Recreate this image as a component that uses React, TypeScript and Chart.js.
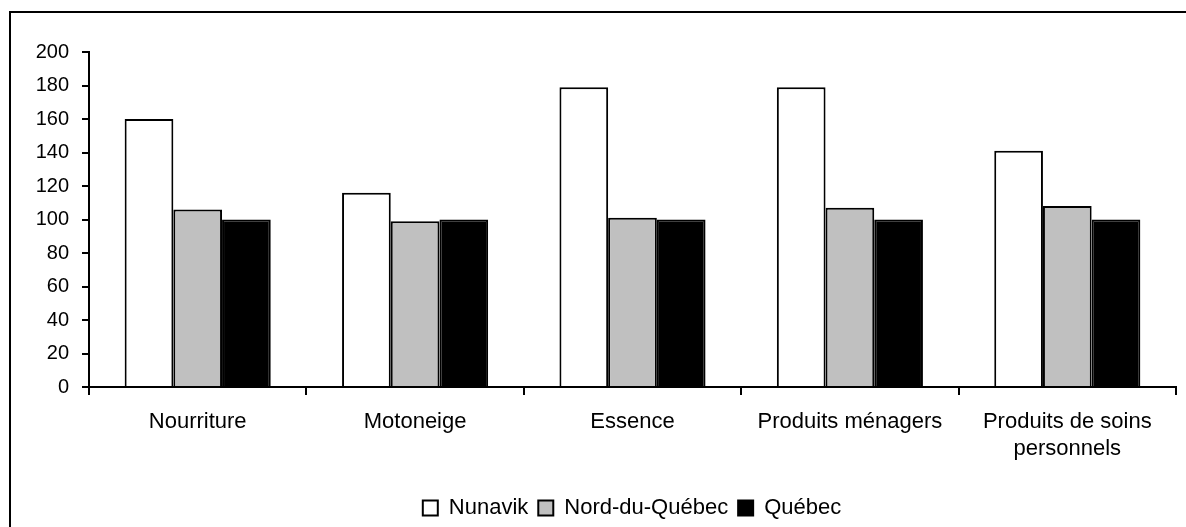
import React, { useEffect, useRef } from "react";
import { Chart, registerables } from "chart.js";

Chart.register(...registerables);

const categories: (string | string[])[] = [
  "Nourriture",
  "Motoneige",
  "Essence",
  "Produits ménagers",
  ["Produits de soins", "personnels"],
];
const nunavik = [160, 116, 179, 179, 141];
const nordDuQuebec = [106, 99, 101, 107, 108];
const quebec = [100, 100, 100, 100, 100];
const seriesNames = ["Nunavik", "Nord-du-Québec", "Québec"];
const seriesColors = ["#ffffff", "#c0c0c0", "#000000"];

const FONT = "'Liberation Sans', Arial, sans-serif";

const framePlugin = {
  id: "frame",
  beforeDraw(chart: any) {
    const ctx = chart.ctx;
    ctx.save();
    ctx.fillStyle = "#ffffff";
    ctx.fillRect(0, 0, chart.width, chart.height);
    ctx.fillStyle = "#000000";
    ctx.fillRect(9, 11, chart.width, 2);
    ctx.fillRect(9, 11, 2, chart.height);
    ctx.restore();
  },
  afterLayout(chart: any) {
    const lg = chart.legend;
    if (lg) {
      lg.left += 44;
      lg.right += 44;
      lg.top += 2;
      lg.bottom += 2;
    }
  },
};

export default function App() {
  const ref = useRef<HTMLCanvasElement | null>(null);
  useEffect(() => {
    if (!ref.current) return;
    const chart = new Chart(ref.current, {
      type: "bar",
      data: {
        labels: categories as any,
        datasets: [nunavik, nordDuQuebec, quebec].map((d, i) => ({
          label: seriesNames[i],
          data: d,
          backgroundColor: seriesColors[i],
          borderColor: "#000000",
          borderWidth: 2,
          borderSkipped: "bottom" as const,
          categoryPercentage: 0.672,
          barPercentage: 1.0,
        })),
      },
      options: {
        responsive: false,
        animation: false,
        devicePixelRatio: 1,
        layout: { padding: { top: 52, right: 10, left: 0, bottom: 0 } },
        plugins: {
          tooltip: { enabled: false },
          legend: {
            position: "bottom",
            labels: {
              font: { family: FONT, size: 22 },
              color: "#000000",
              boxWidth: 15,
              boxHeight: 15,
              padding: 10,
            },
          },
        },
        scales: {
          x: {
            grid: {
              drawOnChartArea: false,
              drawTicks: true,
              tickLength: 8,
              color: "#000000",
              lineWidth: 2,
            },
            border: { color: "#000000", width: 2 },
            ticks: {
              font: { family: FONT, size: 22 },
              color: "#000000",
              padding: 14,
              maxRotation: 0,
              autoSkip: false,
            },
            afterFit(scale: any) {
              scale.height = 98;
            },
          },
          y: {
            min: 0,
            max: 200,
            grid: {
              drawOnChartArea: false,
              drawTicks: true,
              tickLength: 7,
              color: "#000000",
              lineWidth: 2,
            },
            border: { color: "#000000", width: 2 },
            ticks: {
              stepSize: 20,
              font: { family: FONT, size: 20 },
              color: "#000000",
              padding: 13,
            },
            afterFit(scale: any) {
              scale.width = 89;
            },
          },
        },
      },
      plugins: [framePlugin],
    });
    return () => chart.destroy();
  }, []);
  return (
    <canvas
      ref={ref}
      width={1186}
      height={527}
      style={{ position: "fixed", left: 0, top: 0, width: 1186, height: 527 }}
    />
  );
}
